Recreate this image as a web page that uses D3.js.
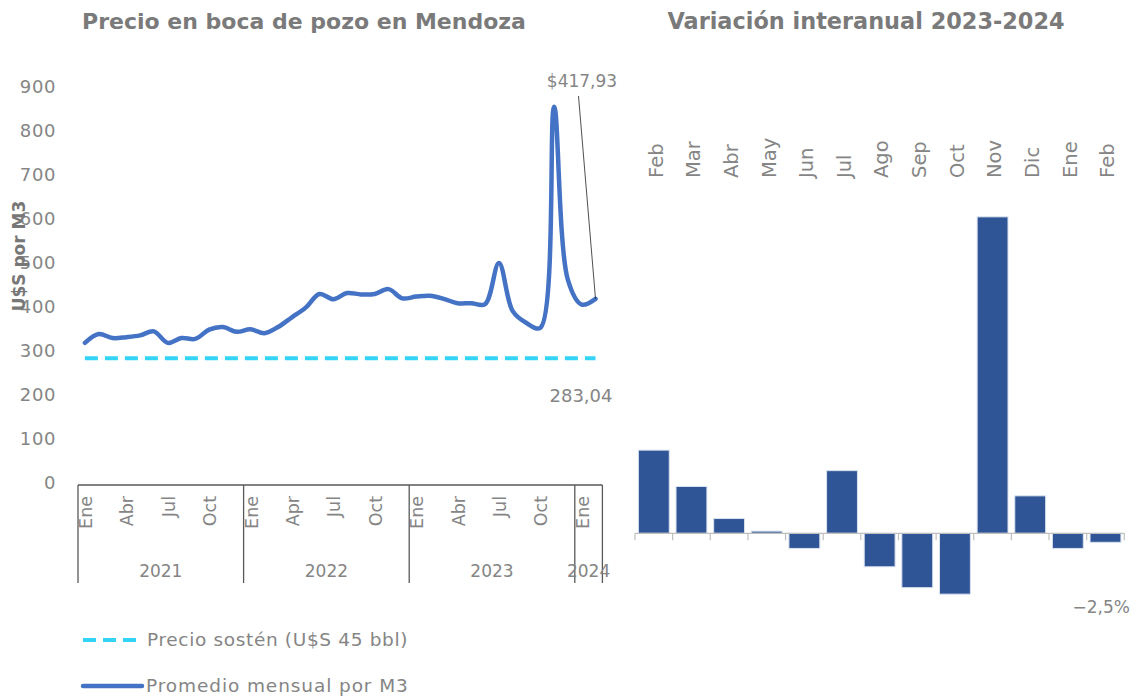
<!DOCTYPE html>
<html>
<head>
<meta charset="utf-8">
<script src="https://cdn.jsdelivr.net/npm/d3@7"></script>
<style>
  html, body { margin: 0; padding: 0; background: #fff; }
  svg { display: block; font-family: "DejaVu Sans", "Open Sans", sans-serif; }
</style>
</head>
<body>
<svg id="chart" width="1142" height="697"></svg>
<script>
// Monthly wellhead price, Jan 2021 – Feb 2024 (U$S per m3)
const precioMensual = [
  318, 338, 329, 331, 335, 344, 318, 329, 327, 348, 354, 343,
  349, 340, 354, 376, 398, 429, 417, 431, 428, 429, 440, 419,
  423, 425, 418, 408, 408, 406, 499, 390, 363, 352, 854, 461,
  405, 417.93
];
const precioSosten = 283.04;

// Category axis labels
const tickIndex  = [0, 3, 6, 9, 12, 15, 18, 21, 24, 27, 30, 33, 36];
const tickLabels = ["Ene", "Abr", "Jul", "Oct", "Ene", "Apr", "Jul", "Oct", "Ene", "Abr", "Jul", "Oct", "Ene"];
const years      = ["2021", "2022", "2023", "2024"];
const yearStart  = [0, 12, 24, 36];
const yearEnd    = [12, 24, 36, 38];
const yTicks     = [0, 100, 200, 300, 400, 500, 600, 700, 800, 900];

// Year-on-year change 2023-2024 (%)
const varMeses   = ["Feb", "Mar", "Abr", "May", "Jun", "Jul", "Ago", "Sep", "Oct", "Nov", "Dic", "Ene", "Feb"];
const varValores = [23.1, 13.0, 4.1, 0.6, -4.2, 17.4, -9.3, -15.1, -16.9, 87.9, 10.4, -4.2, -2.5];

const grayText = "#858585";
const titleGray = "#7a7a7a";
const svg = d3.select("#chart");

// ---------- Left: price line ----------
const xL = d3.scaleBand().domain(d3.range(precioMensual.length)).range([78, 602.4]).padding(0);
const cx = i => xL(i) + xL.bandwidth() / 2;
const yL = d3.scaleLinear().domain([0, 900]).range([483, 86.4]);

svg.append("text")
  .attr("x", 304).attr("y", 29)
  .attr("text-anchor", "middle")
  .attr("font-size", 22).attr("font-weight", 700)
  .attr("fill", titleGray)
  .text("Precio en boca de pozo en Mendoza");

// y axis labels (no axis line)
const yAxis = d3.axisLeft(yL).tickValues(yTicks).tickSize(0).tickPadding(22);
const gy = svg.append("g").attr("transform", "translate(78,0)").call(yAxis);
gy.select(".domain").remove();
gy.selectAll("text").attr("font-size", 18).attr("letter-spacing", 0.6)
  .attr("fill", grayText).attr("font-family", "DejaVu Sans, sans-serif");

svg.append("text")
  .attr("transform", "translate(25,256) rotate(-90)")
  .attr("text-anchor", "middle")
  .attr("font-size", 17).attr("font-weight", 700)
  .attr("fill", "#777")
  .text("U$S por M3");

// support price (dashed)
svg.append("line")
  .attr("x1", cx(0)).attr("x2", cx(precioMensual.length - 1))
  .attr("y1", yL(precioSosten)).attr("y2", yL(precioSosten))
  .attr("stroke", "#33d4f5").attr("stroke-width", 4.2)
  .attr("stroke-dasharray", "13,7");

// monthly average (smoothed)
const line = d3.line().x((d, i) => cx(i)).y(d => yL(d)).curve(d3.curveCatmullRom.alpha(0.5));
svg.append("path")
  .datum(precioMensual)
  .attr("d", line)
  .attr("fill", "none")
  .attr("stroke", "#4472c4").attr("stroke-width", 4.5)
  .attr("stroke-linejoin", "round").attr("stroke-linecap", "round");

// last value callout
const lastI = precioMensual.length - 1;
svg.append("line")
  .attr("x1", cx(lastI) - 17).attr("y1", 96)
  .attr("x2", cx(lastI)).attr("y2", yL(precioMensual[lastI]))
  .attr("stroke", "#222").attr("stroke-width", 0.8);
svg.append("text")
  .attr("x", 582).attr("y", 87).attr("text-anchor", "middle")
  .attr("font-size", 17).attr("fill", grayText)
  .text("$" + d3.format(".2f")(precioMensual[lastI]).replace(".", ","));
svg.append("text")
  .attr("x", 581).attr("y", 402).attr("text-anchor", "middle")
  .attr("font-size", 18).attr("fill", grayText)
  .text(d3.format(".2f")(precioSosten).replace(".", ","));

// multi-level category axis
const axisY = 485, axisBottom = 583;
const gx = svg.append("g").attr("stroke", "#595959").attr("stroke-width", 1.3);
gx.append("line").attr("x1", xL(0)).attr("x2", xL.range()[1]).attr("y1", axisY).attr("y2", axisY);
yearStart.forEach(s => {
  gx.append("line").attr("x1", xL(s)).attr("x2", xL(s)).attr("y1", axisY).attr("y2", axisBottom);
});
gx.append("line").attr("x1", xL.range()[1]).attr("x2", xL.range()[1]).attr("y1", axisY).attr("y2", axisBottom);

svg.append("g").selectAll("text")
  .data(tickIndex)
  .join("text")
  .attr("transform", (d, k) => `translate(${cx(d) + 1},496) rotate(-90)`)
  .attr("dy", "0.35em")
  .attr("text-anchor", "end")
  .attr("font-size", 17.5).attr("fill", grayText)
  .text((d, k) => tickLabels[k]);

svg.append("g").selectAll("text")
  .data(years)
  .join("text")
  .attr("x", (d, k) => (xL(yearStart[k]) + (yearEnd[k] < precioMensual.length ? xL(yearEnd[k]) : xL.range()[1])) / 2)
  .attr("y", 577)
  .attr("text-anchor", "middle")
  .attr("font-size", 17).attr("fill", grayText)
  .text(d => d);

// legend
const legend = svg.append("g");
legend.append("line").attr("x1", 83).attr("x2", 140).attr("y1", 640).attr("y2", 640)
  .attr("stroke", "#33d4f5").attr("stroke-width", 4.2).attr("stroke-dasharray", "13,7");
legend.append("text").attr("x", 147).attr("y", 646).attr("font-size", 18.5).attr("letter-spacing", 0.65).attr("fill", grayText)
  .text("Precio sostén (U$S 45 bbl)");
legend.append("line").attr("x1", 83).attr("x2", 142).attr("y1", 686).attr("y2", 686)
  .attr("stroke", "#4472c4").attr("stroke-width", 4.5).attr("stroke-linecap", "round");
legend.append("text").attr("x", 146).attr("y", 692).attr("font-size", 18.5).attr("letter-spacing", 0.9).attr("fill", grayText)
  .text("Promedio mensual por M3");

// ---------- Right: year-on-year bars ----------
svg.append("text")
  .attr("x", 866).attr("y", 29)
  .attr("text-anchor", "middle")
  .attr("font-size", 22.4).attr("font-weight", 700)
  .attr("fill", titleGray)
  .text("Variación interanual 2023-2024");

const xR = d3.scaleBand().domain(d3.range(varMeses.length)).range([635, 1124.3]).paddingInner(0.18).paddingOuter(0.09);
const yR = d3.scaleLinear().domain([-20, 90]).range([605.3, 209.3]);

svg.append("g").selectAll("rect")
  .data(varValores)
  .join("rect")
  .attr("x", (d, i) => xR(i))
  .attr("width", xR.bandwidth())
  .attr("y", d => yR(Math.max(0, d)))
  .attr("height", d => Math.abs(yR(d) - yR(0)))
  .attr("fill", "#2f5597")
  .attr("stroke", "#d9e1ee").attr("stroke-width", 1);

// category axis at zero
const step = (1124.3 - 635) / varMeses.length;
const gr = svg.append("g").attr("stroke", "#bfbfbf").attr("stroke-width", 1.2);
gr.append("line").attr("x1", 635).attr("x2", 1124.3).attr("y1", yR(0)).attr("y2", yR(0));
gr.selectAll("line.tick")
  .data(d3.range(varMeses.length + 1))
  .join("line").attr("class", "tick")
  .attr("x1", i => 635 + i * step).attr("x2", i => 635 + i * step)
  .attr("y1", yR(0)).attr("y2", yR(0) + 7);

svg.append("g").selectAll("text")
  .data(varMeses)
  .join("text")
  .attr("transform", (d, i) => `translate(${xR(i) + xR.bandwidth() / 2 + 2},178) rotate(-90)`)
  .attr("dy", "0.35em")
  .attr("text-anchor", "start")
  .attr("font-size", 19.5).attr("fill", grayText)
  .text(d => d);

const lastV = varValores[varValores.length - 1];
svg.append("text")
  .attr("x", 1130).attr("y", 613).attr("text-anchor", "end")
  .attr("font-size", 17).attr("fill", grayText)
  .text(d3.format(".1f")(lastV).replace(".", ",").replace("-", "−") + "%");
</script>
</body>
</html>
